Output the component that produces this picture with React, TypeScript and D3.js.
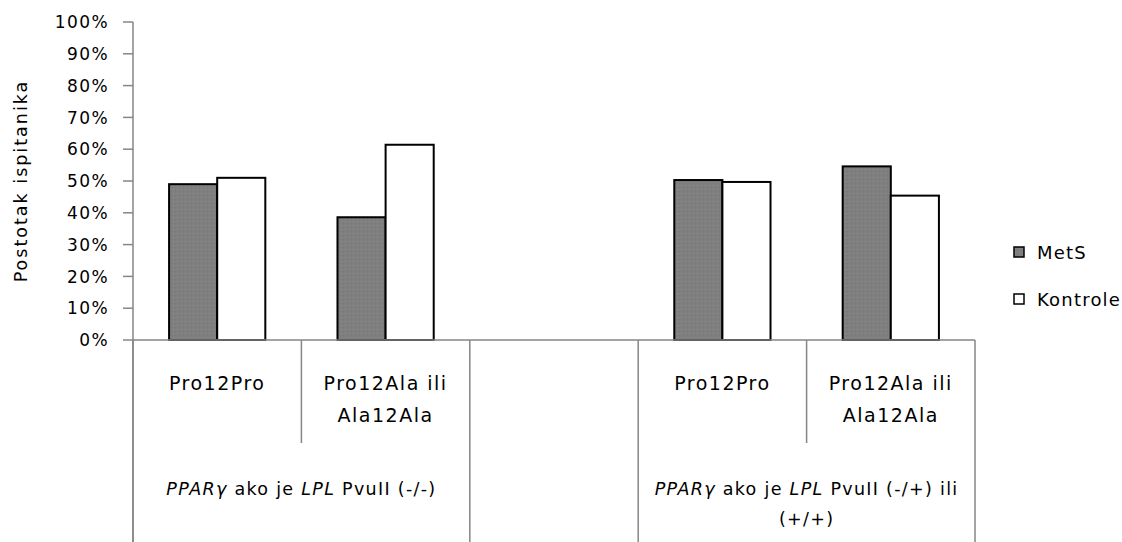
import * as d3 from 'd3';

// chart data
const categoryLines: string[][] = [
  ['Pro12Pro'],
  ['Pro12Ala ili', 'Ala12Ala'],
  [],
  ['Pro12Pro'],
  ['Pro12Ala ili', 'Ala12Ala'],
];
const categoryKeys = ['a1', 'a2', 'gap', 'b1', 'b2'];
const metS: (number | null)[] = [0.49, 0.386, null, 0.503, 0.546];
const kontrole: (number | null)[] = [0.51, 0.614, null, 0.497, 0.454];
const seriesNames = ['MetS', 'Kontrole'];
const yTicks = [0, 0.1, 0.2, 0.3, 0.4, 0.5, 0.6, 0.7, 0.8, 0.9, 1];

const W = 1122;
const H = 542;
const FONT = '"DejaVu Sans", Verdana, sans-serif';
const AXIS = '#868686';

export default function App() {
  const x = d3.scaleBand<string>().domain(categoryKeys).range([133, 975]).padding(0);
  const inner = d3.scaleBand<string>().domain(seriesNames).range([0, x.bandwidth()])
    .paddingInner(0).paddingOuter(0.75);
  const y = d3.scaleLinear().domain([0, 1]).range([340, 22]);
  const pct = d3.format('.0%');

  const series = [
    { name: 'MetS', values: metS, fill: 'url(#metsFill)' },
    { name: 'Kontrole', values: kontrole, fill: '#ffffff' },
  ];

  // boundaries between categories: short ones inside a group, long ones at group edges
  const edges = categoryKeys.map(k => x(k) as number).concat([975]);
  const longEdge = [true, false, true, true, false, true];

  const groups = [
    { from: 0, to: 2, lines: [['PPARγ', ' ako je ', 'LPL', ' PvuII (-/-)']] },
    { from: 3, to: 5, lines: [['PPARγ', ' ako je ', 'LPL', ' PvuII (-/+) ili'], ['', '(+/+)']] },
  ];

  return (
    <svg width={W} height={H} style={{ position: 'absolute', left: 0, top: 0, background: '#fff' }}
      fontFamily={FONT}>
      <defs>
        <pattern id="metsFill" width="4" height="4" patternUnits="userSpaceOnUse">
          <rect width="4" height="4" fill="#7f7f7f" />
          <rect x="1" y="1" width="1" height="1" fill="#8c8c8c" />
          <rect x="3" y="3" width="1" height="1" fill="#787878" />
        </pattern>
      </defs>

      {/* y axis */}
      <line x1={133} x2={133} y1={y(1)} y2={H} stroke={AXIS} strokeWidth={1.5} />
      {yTicks.map(t => (
        <g key={t}>
          <line x1={123} x2={133} y1={y(t)} y2={y(t)} stroke={AXIS} strokeWidth={1.5} />
          <text x={109} y={y(t)} dy="0.36em" textAnchor="end" fontSize={17}
            letterSpacing={1.4} fill="#000">{pct(t)}</text>
        </g>
      ))}
      <text transform={`translate(27,${(y(0) + y(1)) / 2}) rotate(-90)`} textAnchor="middle"
        fontSize={17.5} letterSpacing={2} fill="#000">Postotak ispitanika</text>

      {/* bars */}
      {series.map(s => s.values.map((v, i) => v == null ? null : (
        <rect key={s.name + i}
          x={(x(categoryKeys[i]) as number) + (inner(s.name) as number)}
          y={y(v)} width={inner.bandwidth()} height={y(0) - y(v)}
          fill={s.fill} stroke="#000" strokeWidth={2} />
      )))}

      {/* x axis */}
      <line x1={133} x2={975} y1={y(0)} y2={y(0)} stroke={AXIS} strokeWidth={1.5} />
      {edges.map((ex, i) => (
        <line key={i} x1={ex} x2={ex} y1={y(0)} y2={longEdge[i] ? H : 443}
          stroke={AXIS} strokeWidth={1.5} />
      ))}

      {/* category labels */}
      {categoryLines.map((lines, i) => lines.map((ln, j) => (
        <text key={i + '-' + j} x={(x(categoryKeys[i]) as number) + x.bandwidth() / 2}
          y={390 + j * 32} textAnchor="middle" fontSize={19} letterSpacing={1.5} fill="#000">{ln}</text>
      )))}

      {/* group labels */}
      {groups.map((g, gi) => g.lines.map((parts, j) => (
        <text key={gi + '-' + j} x={(edges[g.from] + edges[g.to]) / 2} y={495 + j * 30}
          textAnchor="middle" fontSize={17.5} letterSpacing={1.3} fill="#000">
          {parts.map((p, k) => (
            <tspan key={k} fontStyle={k % 2 === 0 && k < 3 ? 'italic' : 'normal'}>{p}</tspan>
          ))}
        </text>
      )))}

      {/* legend */}
      {series.map((s, i) => (
        <g key={s.name} transform={`translate(1014,${247 + i * 47})`}>
          <rect x={0} y={0} width={10} height={10} fill={s.fill} stroke="#000" strokeWidth={1.5} />
          <text x={23} y={12} fontSize={18} letterSpacing={1.2} fill="#000">{s.name}</text>
        </g>
      ))}
    </svg>
  );
}
